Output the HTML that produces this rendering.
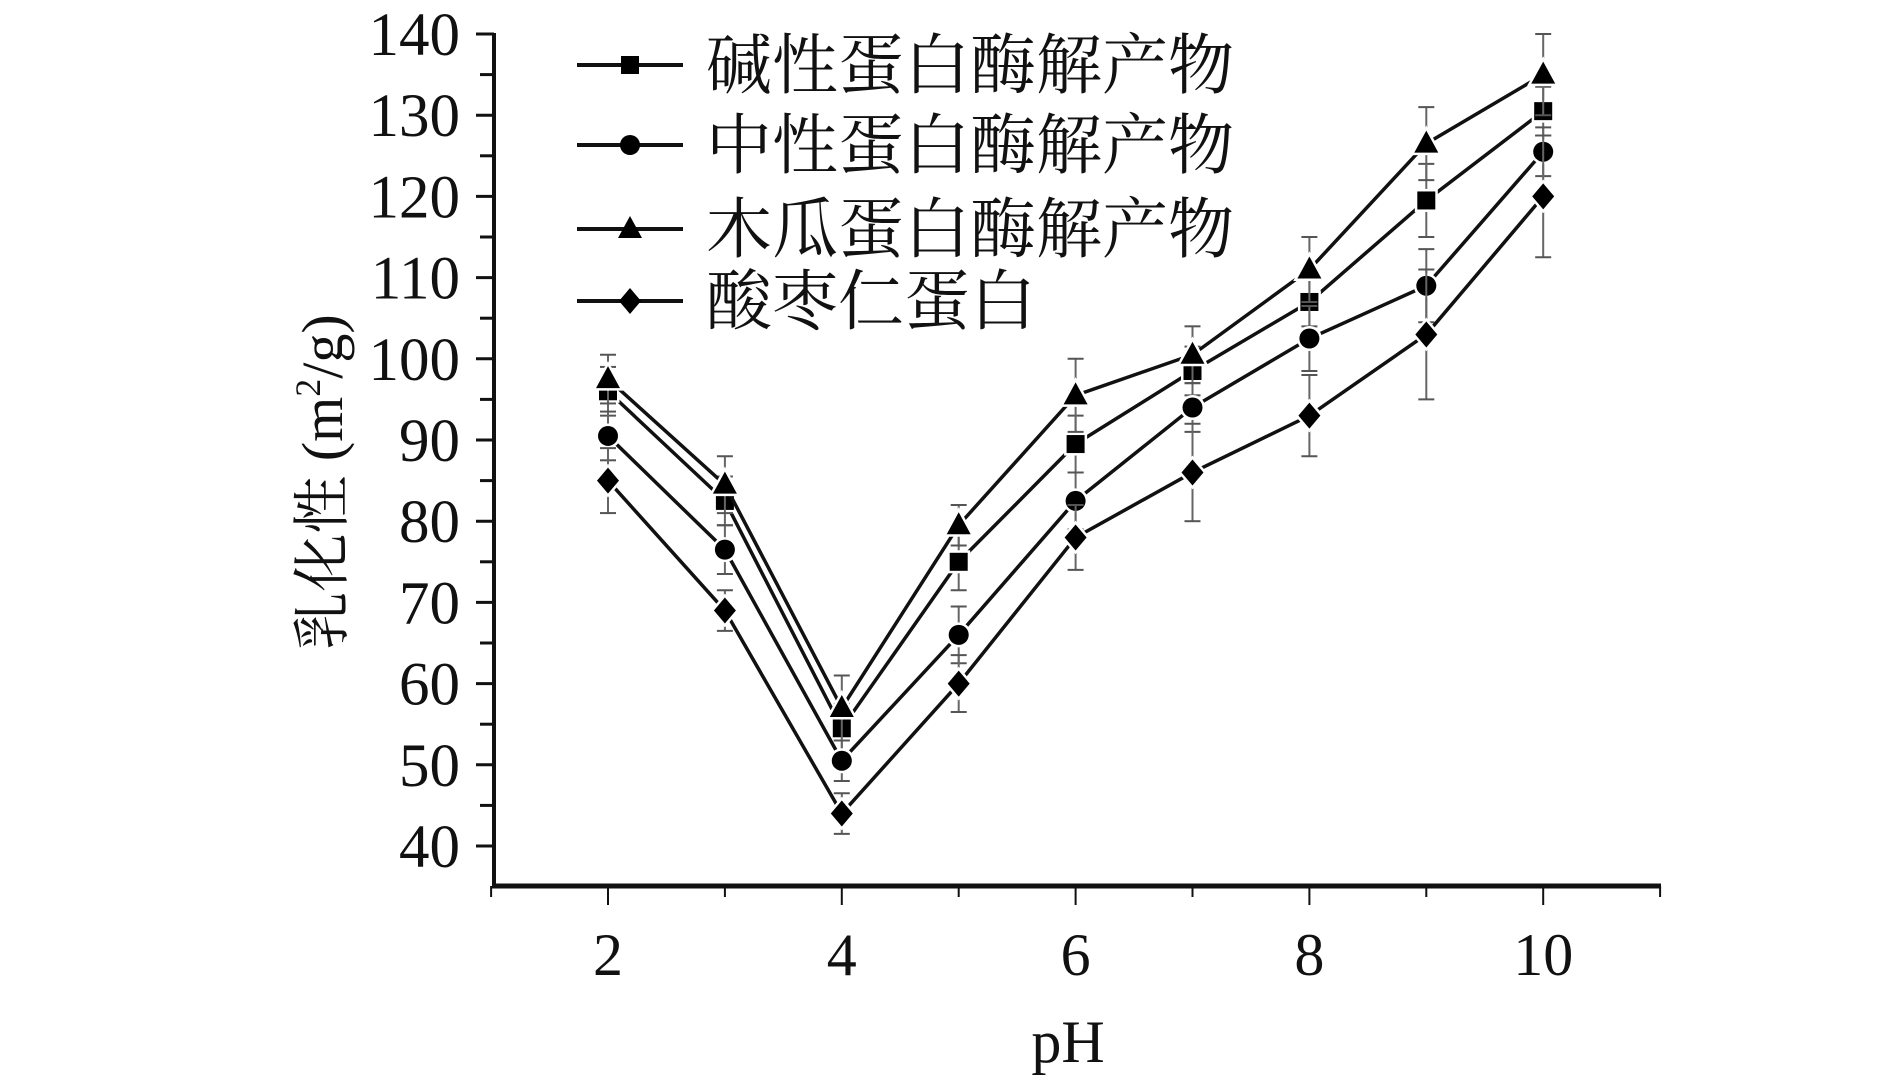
<!DOCTYPE html>
<html><head><meta charset="utf-8"><style>
html,body{margin:0;padding:0;background:#fff;}
svg{display:block;}
text{font-family:"Liberation Serif","Noto Serif CJK SC",serif;fill:#111;}
.cjk{font-family:"Liberation Serif","Noto Serif CJK SC","Noto Sans CJK SC",serif;}
</style></head><body>
<svg id="chart" width="1890" height="1076" viewBox="0 0 1890 1076" xmlns="http://www.w3.org/2000/svg"></svg>
<script>
const phValues = [2,3,4,5,6,7,8,9,10];
const alkalineVals = [96,82.5,54.5,75,89.5,98.5,107,119.5,130.5];
const alkalineErr = [3,3,3,3.5,3.5,3,3,4.5,3];
const neutralVals = [90.5,76.5,50.5,66,82.5,94,102.5,109,125.5];
const neutralErr = [3,3,2.5,3.5,3.5,3,4,4.5,3];
const papainVals = [97.5,84.5,57,79.5,95.5,100.5,111,126.5,135];
const papainErr = [3,3.5,4,2.5,4.5,3.5,4,4.5,5];
const jujubeVals = [85,69,44,60,78,86,93,103,120];
const jujubeErr = [4,2.5,2.5,3.5,4,6,5,8,7.5];
const yTicks = [40,50,60,70,80,90,100,110,120,130,140];
const xTicks = [2,4,6,8,10];
const seriesNames = ["碱性蛋白酶解产物","中性蛋白酶解产物","木瓜蛋白酶解产物","酸枣仁蛋白"];

const NS="http://www.w3.org/2000/svg";
const svg=document.getElementById('chart');
function X(v){return 608+(v-2)*116.9;}
function Y(v){return 846-(v-40)*8.12;}
function mk(tag,attrs,parent){const e=document.createElementNS(NS,tag);for(const k in attrs)e.setAttribute(k,attrs[k]);(parent||svg).appendChild(e);return e;}

const axY=mk('line',{x1:494,y1:33,x2:494,y2:888,stroke:'#111','stroke-width':4});


const axX=mk('line',{x1:492,y1:886,x2:1661,y2:886,stroke:'#111','stroke-width':5});



for(let v=40;v<=140;v+=5){
  const major=v%10===0;
  const t=mk('line',{x1:major?476:480,y1:Y(v),x2:494,y2:Y(v),stroke:'#111','stroke-width':3});
  
  
}
yTicks.forEach(v=>{
  const t=mk('text',{x:460,y:Y(v)+21,'text-anchor':'end','font-size':61});
  t.textContent=v;
  
  
});
for(let v=1;v<=11;v++){
  const major=v%2===0;
  const t=mk('line',{x1:X(v),y1:886,x2:X(v),y2:major?905:897,stroke:'#111','stroke-width':2});
  
  
}
xTicks.forEach(v=>{
  const t=mk('text',{x:X(v),y:975,'text-anchor':'middle','font-size':60});
  t.textContent=v;
  
  
});
const xt=mk('text',{x:1068,y:1062,'text-anchor':'middle','font-size':60});
xt.textContent='pH';


const yt=mk('text',{x:0,y:0,'text-anchor':'middle','font-size':58,transform:'translate(342,482) rotate(-90)',class:'cjk'});
yt.innerHTML='乳化性 (m<tspan font-size="36" dy="-22">2</tspan><tspan dy="22">/g)</tspan>';



function marker(type,cx,cy,parent){
  const s={fill:'#000',stroke:'#fff','stroke-width':5,'paint-order':'stroke'};
  let e;
  if(type==='square')e=mk('rect',Object.assign({x:cx-9,y:cy-9,width:18,height:18},s),parent);
  else if(type==='circle')e=mk('circle',Object.assign({cx:cx,cy:cy,r:10},s),parent);
  else if(type==='triangle')e=mk('polygon',Object.assign({points:`${cx},${cy-13} ${cx-12},${cy+9} ${cx+12},${cy+9}`},s),parent);
  else e=mk('polygon',Object.assign({points:`${cx},${cy-13} ${cx+11},${cy} ${cx},${cy+13} ${cx-11},${cy}`},s),parent);
  return e;
}

const series=[
  {vals:alkalineVals,err:alkalineErr,m:'square',name:'alkaline-protease'},
  {vals:neutralVals,err:neutralErr,m:'circle',name:'neutral-protease'},
  {vals:papainVals,err:papainErr,m:'triangle',name:'papain'},
  {vals:jujubeVals,err:jujubeErr,m:'diamond',name:'jujube-protein'}
];
series.forEach(s=>{
  const g=mk('g',{});
  
  
  phValues.forEach((p,i)=>{
    const x=X(p),y1=Y(s.vals[i]+s.err[i]),y2=Y(s.vals[i]-s.err[i]);
    mk('line',{x1:x,y1:y1,x2:x,y2:y2,stroke:'#666','stroke-width':2},g);
    mk('line',{x1:x-8,y1:y1,x2:x+8,y2:y1,stroke:'#555','stroke-width':2},g);
    mk('line',{x1:x-8,y1:y2,x2:x+8,y2:y2,stroke:'#555','stroke-width':2},g);
  });
  const pts=phValues.map((p,i)=>X(p)+','+Y(s.vals[i])).join(' ');
  const pl=mk('polyline',{points:pts,fill:'none',stroke:'#111','stroke-width':3.5},g);
  
  
  phValues.forEach((p,i)=>{
    const m=marker(s.m,X(p),Y(s.vals[i]),g);
    
    
  });
});

const legY=[65,145,229,301];
const lg=mk('g',{});


series.forEach((s,i)=>{
  const ln=mk('line',{x1:577,y1:legY[i],x2:683,y2:legY[i],stroke:'#111','stroke-width':4},lg);
  
  
  const m=marker(s.m,630,legY[i],lg);
  m.setAttribute('stroke','none');
  
  
  const t=mk('text',{x:706,y:legY[i]+23,'font-size':66,class:'cjk'},lg);
  t.textContent=seriesNames[i];
  
  
});
</script>
</body></html>
